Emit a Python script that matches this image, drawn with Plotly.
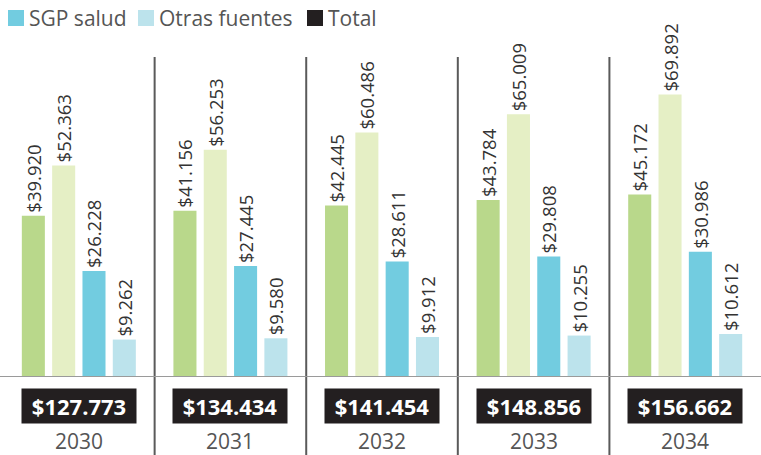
import plotly.graph_objects as go

years = ["2030", "2031", "2032", "2033", "2034"]
serie_verde = [39920, 41156, 42445, 43784, 45172]
serie_verde_claro = [52363, 56253, 60486, 65009, 69892]
sgp_salud = [26228, 27445, 28611, 29808, 30986]
otras_fuentes = [9262, 9580, 9912, 10255, 10612]
totales = [127773, 134434, 141454, 148856, 156662]

legend_labels = ["SGP salud", "Otras fuentes", "Total"]
legend_colors = ["#72cce0", "#bce3ec", "#231f20"]

colors = ["#b9d88b", "#e5efc5", "#72cce0", "#bce3ec"]
series = [serie_verde, serie_verde_claro, sgp_salud, otras_fuentes]
names = ["Serie 1", "Serie 2", "SGP salud", "Otras fuentes"]

FONT = "Open Sans"
fig = go.Figure()
for vals, c, n in zip(series, colors, names):
    fig.add_trace(go.Bar(
        x=years, y=vals, name=n, marker_color=c, marker_line_width=0,
        texttemplate="$%{y:,.0f}", textposition="outside", textangle=-90,
        textfont=dict(family=FONT, size=18.5, color="#333333"),
        constraintext="none", cliponaxis=False, showlegend=False,
    ))

W, H = 761, 455
T, B = 40, 78
ph = H - T - B

def py(pix):
    return (H - B - pix) / ph

shapes = []
annotations = []
# dividers
for i in range(len(years) - 1):
    shapes.append(dict(type="line", xref="x", yref="paper", x0=i + 0.5, x1=i + 0.5,
                       y0=py(458), y1=py(57), line=dict(color="#5a5a5a", width=2)))
# baseline
shapes.append(dict(type="line", xref="paper", yref="y", x0=0, x1=1, y0=0, y1=0,
                   line=dict(color="#9a9a9a", width=2)))
# totals and years
for i, (yr, tot) in enumerate(zip(years, totales)):
    s = "${:,}".format(tot).replace(",", ".")
    annotations.append(dict(x=i, y=py(405.5), xref="x", yref="paper", text="<b>" + s + "</b>",
                            showarrow=False, bgcolor="#231f20", width=112, height=32,
                            font=dict(family=FONT, size=22, color="white"),
                            xanchor="center", yanchor="middle"))
    annotations.append(dict(x=i, y=py(441), xref="x", yref="paper", text=yr,
                            showarrow=False, font=dict(family=FONT, size=21, color="#555555"),
                            xanchor="center", yanchor="middle"))
# legend (manual)
lx = [8, 138, 307]
for x0, lab, c in zip(lx, legend_labels, legend_colors):
    shapes.append(dict(type="rect", xref="paper", yref="paper", x0=x0 / W, x1=(x0 + 16) / W,
                       y0=py(26), y1=py(10), fillcolor=c, line=dict(width=0)))
    annotations.append(dict(x=(x0 + 19) / W, y=py(18), xref="paper", yref="paper", text=lab,
                            showarrow=False, xanchor="left", yanchor="middle",
                            font=dict(family=FONT, size=21, color="#555555")))

fig.update_layout(
    width=W, height=H,
    margin=dict(l=0, r=0, t=T, b=B, pad=0),
    paper_bgcolor="white", plot_bgcolor="white",
    barmode="group", bargap=0.2, bargroupgap=0.24,
    separators=",.",
    xaxis=dict(range=[-0.52, 4.5], showticklabels=False, showgrid=False, zeroline=False,
               showline=False, ticks=""),
    yaxis=dict(range=[0, 83400], showticklabels=False, showgrid=False, zeroline=False,
               showline=False, ticks=""),
    shapes=shapes, annotations=annotations, showlegend=False,
)
fig.write_html("out.html", config={"displayModeBar": False},
               post_script="document.body.style.margin='0';document.body.style.overflow='hidden';")
